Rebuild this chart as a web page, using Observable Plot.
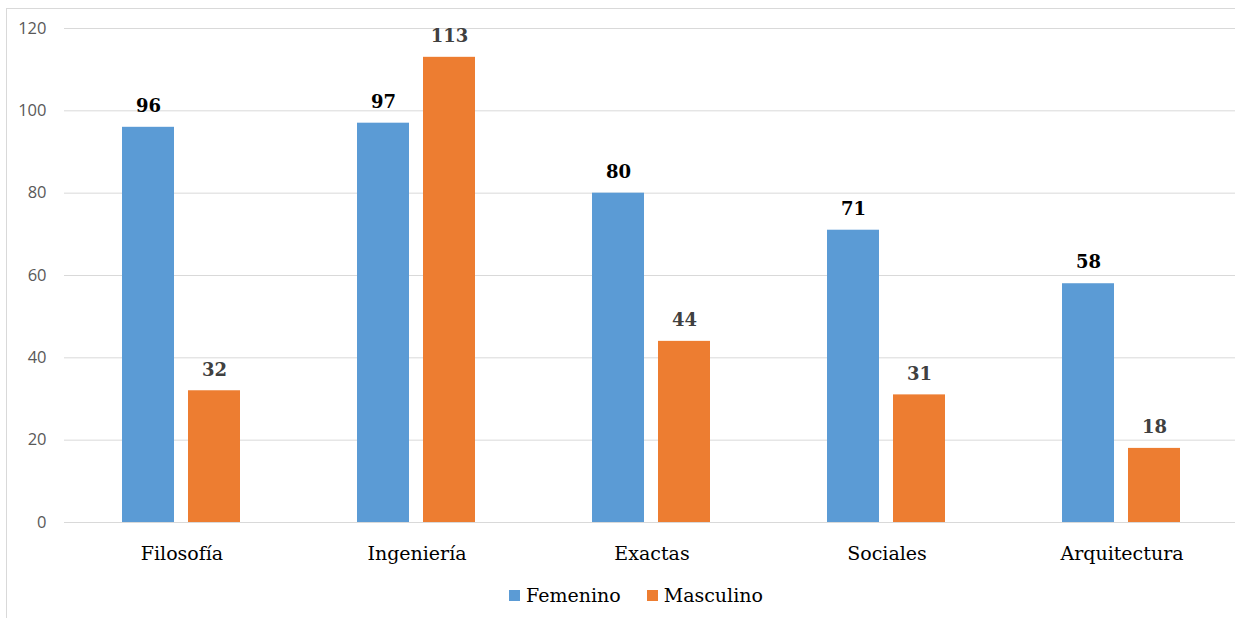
<!DOCTYPE html>
<html>
<head>
<meta charset="utf-8">
<script src="https://cdn.jsdelivr.net/npm/d3@7"></script>
<script src="https://cdn.jsdelivr.net/npm/@observablehq/plot@0.6"></script>
<style>
  html, body { margin: 0; padding: 0; background: #fff; overflow: hidden; width: 1235px; height: 618px; }
  #frame { position: absolute; left: 6px; top: 8px; width: 1300px; height: 700px; border-left: 1px solid #d9d9d9; border-top: 1px solid #d9d9d9; box-sizing: border-box; pointer-events: none; }
  #chart { position: absolute; left: 0; top: 0; width: 1240px; }
  #legend { position: absolute; left: 0; top: 572px; width: 1272px; height: 46px; display: flex; justify-content: center; align-items: center; gap: 26px; font-family: "DejaVu Serif", serif; font-size: 19px; color: #000; }
  #legend .item { display: flex; align-items: center; gap: 6px; }
  #legend .sw { width: 11px; height: 11px; display: inline-block; }
</style>
</head>
<body>
<div id="frame"></div>
<div id="chart"></div>
<div id="legend"></div>
<script>
const categories = ["Filosofía", "Ingeniería", "Exactas", "Sociales", "Arquitectura"];
const series = ["Femenino", "Masculino"];
const femenino = [96, 97, 80, 71, 58];
const masculino = [32, 113, 44, 31, 18];
const yTicks = [0, 20, 40, 60, 80, 100, 120];
const colors = ["#5B9BD5", "#ED7D31"];
const labelColors = ["#000000", "#404040"];

const data = [];
categories.forEach((c, i) => {
  data.push({category: c, serie: series[0], value: femenino[i]});
  data.push({category: c, serie: series[1], value: masculino[i]});
});

const chart = Plot.plot({
  width: 1240,
  height: 572,
  marginLeft: 62,
  marginRight: 0,
  marginTop: 28,
  marginBottom: 50,
  style: {background: "transparent", overflow: "visible", maxWidth: "none"},
  fx: {domain: categories, paddingInner: 0, paddingOuter: 0, label: null},
  x: {domain: series, paddingInner: 0.209, paddingOuter: 0.862, axis: null},
  y: {domain: [0, 120], label: null},
  color: {domain: series, range: colors},
  marks: [
    Plot.gridY(yTicks, {stroke: "#d9d9d9", strokeOpacity: 1, strokeWidth: 1}),
    Plot.axisY(yTicks, {tickSize: 0, tickPadding: 18, fontSize: 16.5, fontFamily: "'Open Sans', sans-serif", fill: "#595959", label: null}),
    Plot.axisFx({anchor: "bottom", tickSize: 0, tickPadding: 24, fontSize: 19, fontFamily: "'DejaVu Serif', serif", fill: "#000", label: null}),
    Plot.barY(data, {fx: "category", x: "serie", y: "value", fill: "serie"}),
    Plot.text(data, {
      fx: "category", x: "serie", y: "value", text: d => String(d.value),
      dy: -21, fontSize: 18, fontWeight: "bold", fontFamily: "'DejaVu Serif', serif",
      fill: d => labelColors[series.indexOf(d.serie)]
    })
  ]
});
chart.style.maxWidth = "none";
document.getElementById("chart").appendChild(chart);

const legend = document.getElementById("legend");
series.forEach((s, i) => {
  const item = document.createElement("div");
  item.className = "item";
  const sw = document.createElement("span");
  sw.className = "sw";
  sw.style.background = colors[i];
  const t = document.createElement("span");
  t.textContent = s;
  item.appendChild(sw);
  item.appendChild(t);
  legend.appendChild(item);
});
</script>
</body>
</html>
